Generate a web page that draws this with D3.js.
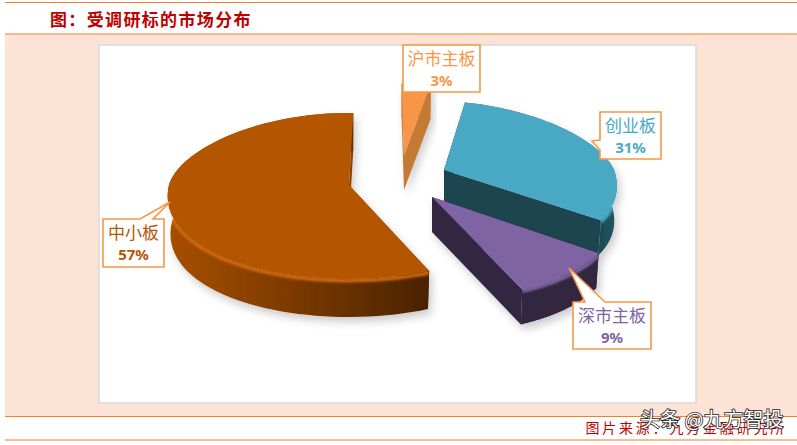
<!DOCTYPE html>
<html lang="zh">
<head>
<meta charset="UTF-8">
<title>受调研标的市场分布</title>
<style>
    html, body { margin: 0; padding: 0; background: #fff; overflow: hidden; }
    svg { display: block; }
    text { font-family: "Noto Sans CJK SC", sans-serif; }
</style>
</head>
<body>
<div id="chart"></div>
<script src="https://d3js.org/d3.v7.min.js"></script>
<script>
// values
const categories = ["沪市主板", "创业板", "深市主板", "中小板"];
const shares = [3, 31, 9, 57];
const titleText = "图：受调研标的市场分布";
const sourceText = "图片来源：九方金融研究所";
const watermarkText = "头条 @九方智投";

// colours per slice
const topColors = ["#f79646", "#4aa9c5", "#8064a2", "#b45604"];
const textColors = ["#f79646", "#4aa9c5", "#8064a2", "#b45604"];
const sideColors = ["#c47a35", "#1c444f", "#31263f", "#8a4300"];
const wallFrom = ["#c47a35", "#1c444f", "#31263f", "#a84f04"];
const wallTo = ["#c47a35", "#245565", "#31263f", "#4a2200"];
const rimColors = ["#f79646", "#4aa9c5", "#8064a2", "#d06610"];

// exploded position of every slice on the page
const geometry = [
    { cx: 404, cy: 155, rx: 176, ryTop: 72, ryBottom: 92, depth: 35 },
    { cx: 444, cy: 170, rx: 170, ryTop: 69, ryBottom: 90, depth: 35 },
    { cx: 432, cy: 197, rx: 182, ryTop: 72, ryBottom: 101, depth: 35 },
    { cx: 349, cy: 185, rx: 180, ryTop: 72, ryBottom: 94, depth: 38 }
];

// callout boxes: x0,y0,x1,y1, tip, notch on which edge
const callouts = [
    { x0: 403, y0: 45, x1: 480, y1: 92 },
    { x0: 600, y0: 112, x1: 661, y1: 159, tip: [592, 141], edge: "left", n0: 140, n1: 150 },
    { x0: 573, y0: 302, x1: 651, y1: 349, tip: [569, 268], edge: "top", n0: 585, n1: 605 },
    { x0: 103, y0: 219, x1: 164, y1: 267, tip: [170, 202], edge: "top", n0: 140, n1: 153 }
];

const width = 797, height = 445;
const persp = 0.12, camX = 350, tilt = 1.5 * Math.PI / 180;

const svg = d3.select("#chart").append("svg")
    .attr("width", width)
    .attr("height", height);

const defs = svg.append("defs");

const shadow = defs.append("filter").attr("id", "shadow")
    .attr("x", "-20%").attr("y", "-20%").attr("width", "140%").attr("height", "140%");
shadow.append("feDropShadow")
    .attr("dx", 3).attr("dy", 5).attr("stdDeviation", 4)
    .attr("flood-color", "#000").attr("flood-opacity", 0.2);

defs.append("filter").attr("id", "soft")
    .attr("x", "-10%").attr("y", "-10%").attr("width", "120%").attr("height", "120%")
    .append("feGaussianBlur").attr("stdDeviation", 1.3);

// page frame
const orange = "#f07f2e";
svg.append("rect").attr("x", 5).attr("y", 34).attr("width", width - 5).attr("height", 382).attr("fill", "#fce3d6");
[2.5, 34, 416.5, 440].forEach(y => {
    svg.append("line").attr("x1", 5).attr("x2", width).attr("y1", y).attr("y2", y)
        .attr("stroke", orange).attr("stroke-width", 1);
});
svg.append("rect").attr("x", 99).attr("y", 45).attr("width", 597).attr("height", 358)
    .attr("fill", "#fff").attr("stroke", "#d9d9d9").attr("stroke-width", 1.5);

svg.append("text").attr("x", 50).attr("y", 26)
    .attr("font-size", 17).attr("font-weight", 700).attr("letter-spacing", 1.35)
    .attr("fill", "#c00000").text(titleText);

// project an angle on the tilted disc
function project(s, angle, radius, isBase) {
    const sin = Math.sin(angle), near = -Math.cos(angle);
    const ry = near < 0 ? s.ryTop : s.ryBottom;
    let dx = s.rx * radius * sin * (1 + persp * near) + (s.cx - camX) * persp * near * radius;
    if (isBase) dx *= 0.985;
    return [s.cx + dx, s.cy + ry * radius * near + (isBase ? s.depth : 0)];
}

const pie = d3.pie().sort(null).value(d => d).startAngle(tilt).endAngle(2 * Math.PI + tilt);
const arcs = pie(shares);
const line = d3.line();

const slices = svg.selectAll("g.slice")
    .data(arcs)
    .join("g")
    .attr("class", "slice")
    .attr("filter", "url(#shadow)");

slices.each(function (d, i) {
    const g = d3.select(this);
    const s = geometry[i];
    const angles = d3.range(0, 81).map(k => d.startAngle + (d.endAngle - d.startAngle) * k / 80);
    const topArc = angles.map(a => project(s, a, 1, false));
    const baseArc = angles.map(a => project(s, a, 1, true));
    const apex = [s.cx, s.cy], apexBase = [s.cx, s.cy + s.depth];

    // radial walls
    g.append("path").attr("d", line([apex, topArc[0], baseArc[0], apexBase]) + "Z").attr("fill", sideColors[i]);
    g.append("path").attr("d", line([apex, topArc[80], baseArc[80], apexBase]) + "Z").attr("fill", sideColors[i]);

    // outer wall with a left to right shade
    const xs = topArc.concat(baseArc).map(p => p[0]);
    const grad = defs.append("linearGradient").attr("id", "wall" + i)
        .attr("gradientUnits", "userSpaceOnUse")
        .attr("x1", d3.min(xs)).attr("x2", d3.max(xs)).attr("y1", 0).attr("y2", 0);
    // the right hand slices only show their wall near the right edge
    grad.append("stop").attr("offset", i === 1 ? 0.85 : 0).attr("stop-color", wallFrom[i]);
    grad.append("stop").attr("offset", 1).attr("stop-color", wallTo[i]);

    const wallPath = line(topArc.concat(baseArc.slice().reverse())) + "Z";
    g.append("path").attr("d", wallPath).attr("fill", "url(#wall" + i + ")");

    // soft bevel on the top rim, kept on the wall
    defs.append("clipPath").attr("id", "wallClip" + i).append("path").attr("d", wallPath);
    g.append("g").attr("clip-path", "url(#wallClip" + i + ")")
        .append("path")
        .attr("d", line(topArc.map(p => [p[0], p[1] + 1.5])))
        .attr("fill", "none")
        .attr("stroke", rimColors[i])
        .attr("stroke-width", 4)
        .attr("filter", "url(#soft)");

    // top face
    g.append("path")
        .attr("d", line([apex].concat(topArc)) + "Z")
        .attr("fill", topColors[i]);
});

// callouts
function calloutPath(c) {
    const p = [[c.x0, c.y0]];
    if (c.edge === "top") p.push([c.n0, c.y0], c.tip, [c.n1, c.y0]);
    p.push([c.x1, c.y0], [c.x1, c.y1], [c.x0, c.y1]);
    if (c.edge === "left") p.push([c.x0, c.n1], c.tip, [c.x0, c.n0]);
    return line(p) + "Z";
}

const labels = svg.selectAll("g.label")
    .data(categories)
    .join("g")
    .attr("class", "label");

labels.append("path")
    .attr("d", (d, i) => calloutPath(callouts[i]))
    .attr("fill", "#fff")
    .attr("stroke", "#f79646")
    .attr("stroke-width", 1.6);

labels.append("text")
    .attr("x", (d, i) => (callouts[i].x0 + callouts[i].x1) / 2)
    .attr("y", (d, i) => callouts[i].y0 + 19.5)
    .attr("text-anchor", "middle")
    .attr("font-size", 17)
    .attr("fill", (d, i) => textColors[i])
    .text(d => d);

labels.append("text")
    .attr("x", (d, i) => (callouts[i].x0 + callouts[i].x1) / 2)
    .attr("y", (d, i) => callouts[i].y0 + 40.5)
    .attr("text-anchor", "middle")
    .attr("font-size", 15)
    .attr("font-weight", 700)
    .attr("fill", (d, i) => textColors[i])
    .style("font-family", "'Noto Sans', sans-serif")
    .text((d, i) => shares[i] + "%");

// source line and watermark
svg.append("text").attr("x", 787).attr("y", 433).attr("text-anchor", "end")
    .attr("font-size", 14).attr("letter-spacing", 2.8).attr("fill", "#c00000").text(sourceText);

svg.append("text").attr("x", 640).attr("y", 427)
    .attr("font-size", 20).attr("fill", "#fff")
    .attr("stroke", "#222").attr("stroke-width", 1.6).attr("paint-order", "stroke")
    .text(watermarkText);
</script>
</body>
</html>
